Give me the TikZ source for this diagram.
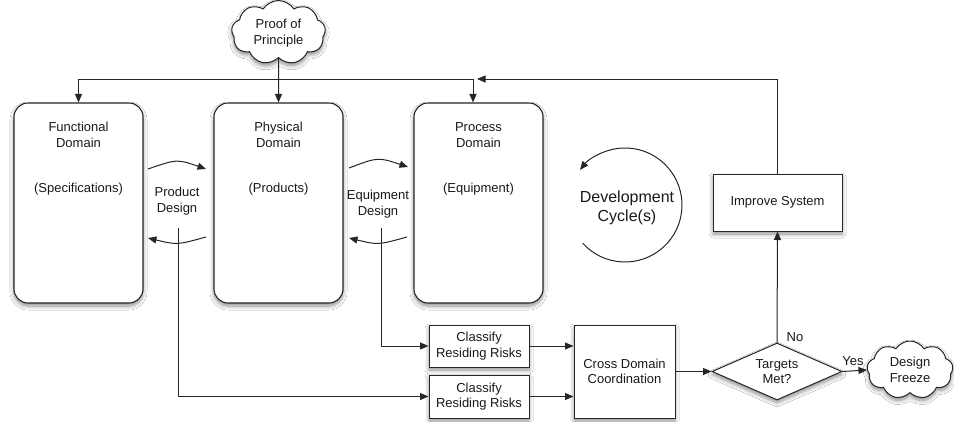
\documentclass[tikz,border=0pt]{standalone}
\usepackage{fontspec}
\setmainfont{Liberation Sans}
\usetikzlibrary{shapes.geometric,shapes.symbols,arrows.meta,shadows.blur}
\tikzset{
  lbl/.style={font=\fontsize{13}{15.5}\selectfont, align=center, inner sep=0pt, text=black!90},
  shd/.style={blur shadow={shadow xshift=0pt, shadow yshift=-3pt, shadow blur radius=4pt, shadow opacity=45, shadow blur steps=6}},
  dombox/.style={draw=black!85, line width=1.1pt, fill=white, rounded corners=14pt, minimum width=129pt, minimum height=200pt, shd},
  box/.style={draw=black!85, line width=1pt, fill=white, lbl, shd},
  cld/.style={cloud, cloud puffs=9, cloud puff arc=115, cloud ignores aspect, draw=black!85, line width=1pt, fill=white, inner sep=0pt, shd},
  conn/.style={draw=black!85, line width=1pt},
  arr/.style={conn, -{Triangle[length=8.5pt,width=7pt]}},
}
\begin{document}
\begin{tikzpicture}[x=1pt, y=-1pt]
\useasboundingbox[fill=white] (0,0) rectangle (954,421);

% domains
\node[dombox] (func) at (78.5,203) {};
\node[dombox] (phys) at (278.5,203) {};
\node[dombox] (proc) at (478.5,203) {};
\node[lbl] (funct) at (78.5,135) {Functional\\Domain};
\node[lbl] (funcs) at (78.5,189) {(Specifications)};
\node[lbl] (physt) at (278.5,135) {Physical\\Domain};
\node[lbl] (physs) at (278.5,189) {(Products)};
\node[lbl] (proct) at (478.5,135) {Process\\Domain};
\node[lbl] (procs) at (478.5,189) {(Equipment)};

% proof of principle
\node[cld, minimum width=94pt, minimum height=64pt] (proof) at (278.5,32.5) {};
\node[lbl] (prooft) at (278.5,33) {Proof of\\Principle};

% top distribution lines
\coordinate (jl) at (78.5,79);
\coordinate (jr) at (473,79);
\coordinate (jin) at (477,79);
\draw[conn] (jl) -- (jr);
\draw[arr] (jl) -- (func.north);
\draw[arr] (jr) -- (jr |- proc.north);
\draw[arr] (proof.south) -- (phys.north);

% between-domain curved arrows
\coordinate (p1) at (148,169);
\coordinate (p2) at (206,169);
\coordinate (p3) at (206,237);
\coordinate (p4) at (148,238);
\draw[arr] (p1) .. controls (177,159) .. (p2);
\draw[arr] (p3) .. controls (177,245) .. (p4);
\node[lbl] (pdes) at (177,201) {Product\\Design};

\coordinate (e1) at (349,168);
\coordinate (e2) at (408,167);
\coordinate (e3) at (407,237);
\coordinate (e4) at (349,238);
\draw[arr] (e1) .. controls (378,157) .. (e2);
\draw[arr] (e3) .. controls (378,245) .. (e4);
\node[lbl] (edes) at (378,204) {Equipment\\Design};

% development cycle
\coordinate (cyc) at (625,205);
\draw[arr] ([shift={(138:57)}]cyc) arc[start angle=138, end angle=-142, radius=57];
\node[lbl, font=\fontsize{16}{19}\selectfont] (cyct) at (627,208) {Development\\Cycle(s)};

% lower boxes
\node[box, minimum width=100pt, minimum height=42pt] (cl1) at (479,346) {Classify\\Residing Risks};
\node[box, minimum width=100pt, minimum height=43pt] (cl2) at (479,396.5) {Classify\\Residing Risks};
\node[box, minimum width=101pt, minimum height=93pt] (cross) at (624.5,371.5) {Cross Domain\\Coordination};
\node[diamond, draw=black!85, line width=1pt, fill=white, lbl, aspect=2.28, minimum width=130pt, minimum height=57pt, shd] (tgt) at (777,371.5) {Targets\\Met?};
\node[box, minimum width=129pt, minimum height=57pt] (imp) at (777.5,202.5) {Improve System};
\node[cld, minimum width=86pt, minimum height=58pt] (frz) at (910,370) {};
\node[lbl] (frzt) at (910,370) {Design\\Freeze};

% connectors
\coordinate (pd) at (178,228);
\coordinate (ed) at (381,228);
\draw[arr] (pd) |- (cl2.west);
\draw[arr] (ed) |- (cl1.west);
\draw[arr] (cl1.east) -- (cl1.east -| cross.west);
\draw[arr] (cl2.east) -- (cl2.east -| cross.west);
\draw[arr] (cross.east) -- (tgt.west);
\draw[arr] (tgt.east) -- (frz.west);
\draw[arr] (tgt.north) -- (imp.south);
\draw[arr] (imp.north) |- (jin);
\node[lbl] (no) at (795,337) {No};
\node[lbl] (yes) at (853,361) {Yes};
\end{tikzpicture}
\end{document}
